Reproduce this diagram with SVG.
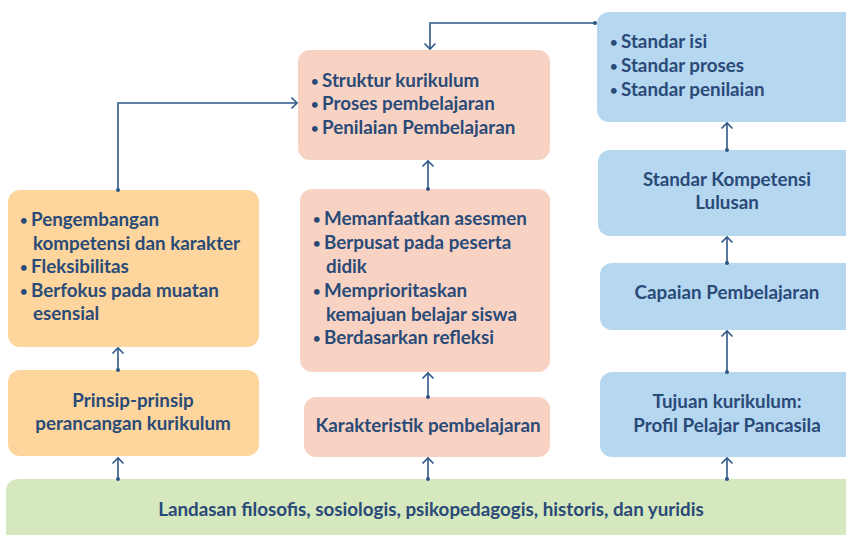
<svg xmlns="http://www.w3.org/2000/svg" width="846" height="535" viewBox="0 0 846 535">
<defs>
<marker id="head" markerUnits="userSpaceOnUse" markerWidth="14" markerHeight="14" viewBox="-8 -7 10 14" refX="0" refY="0" orient="auto">
<path d="M-5.5,-5.5 L0,0 L-5.5,5.5" fill="none" stroke="#2d5886" stroke-width="1.6"/>
</marker>
<marker id="dot" markerUnits="userSpaceOnUse" markerWidth="6" markerHeight="6" viewBox="-3 -3 6 6" refX="0" refY="0">
<circle cx="0" cy="0" r="2" fill="#2d5886"/>
</marker>
</defs>
<style>
text{font-family:Lato,"Liberation Sans",sans-serif;font-weight:bold;font-size:18.8px;fill:#2a4a78}
.b{font-size:13px;baseline-shift:1.5px}
.c{text-anchor:middle}
.or{fill:#fed69d}
.sa{fill:#f8d3c3}
.bl{fill:#b6d7f0}
.gr{fill:#d6e8bd}
.cn{fill:none;stroke:#2d5886;stroke-width:1.6;marker-start:url(#dot);marker-end:url(#head)}
</style>
<rect width="846" height="535" fill="#ffffff"/>

<g id="landasan">
<rect class="gr" x="6" y="479" width="870" height="80" rx="12"/>
<text class="c" x="431" y="516">Landasan filosofis, sosiologis, psikopedagogis, historis, dan yuridis</text>
</g>

<g id="prinsip-isi">
<rect class="or" x="8" y="190" width="251" height="157" rx="12"/>
<text y="226"><tspan class="b" x="20">•</tspan><tspan x="31">Pengembangan</tspan></text>
<text x="33" y="250">kompetensi dan karakter</text>
<text y="273"><tspan class="b" x="20">•</tspan><tspan x="31">Fleksibilitas</tspan></text>
<text y="297"><tspan class="b" x="20">•</tspan><tspan x="31">Berfokus pada muatan</tspan></text>
<text x="33" y="320">esensial</text>
</g>

<g id="prinsip">
<rect class="or" x="8" y="370" width="251" height="86" rx="12"/>
<text class="c" x="133" y="407">Prinsip-prinsip</text>
<text class="c" x="133" y="430">perancangan kurikulum</text>
</g>

<g id="struktur">
<rect class="sa" x="298" y="50" width="252" height="110" rx="12"/>
<text y="87"><tspan class="b" x="311">•</tspan><tspan x="322">Struktur kurikulum</tspan></text>
<text y="110"><tspan class="b" x="311">•</tspan><tspan x="322">Proses pembelajaran</tspan></text>
<text y="134"><tspan class="b" x="311">•</tspan><tspan x="322">Penilaian Pembelajaran</tspan></text>
</g>

<g id="karakteristik-isi">
<rect class="sa" x="300" y="189" width="250" height="183" rx="12"/>
<text y="225"><tspan class="b" x="313">•</tspan><tspan x="324">Memanfaatkan asesmen</tspan></text>
<text y="249"><tspan class="b" x="313">•</tspan><tspan x="324">Berpusat pada peserta</tspan></text>
<text x="326" y="273">didik</text>
<text y="297"><tspan class="b" x="313">•</tspan><tspan x="324">Memprioritaskan</tspan></text>
<text x="326" y="321">kemajuan belajar siswa</text>
<text y="344"><tspan class="b" x="313">•</tspan><tspan x="324">Berdasarkan refleksi</tspan></text>
</g>

<g id="karakteristik">
<rect class="sa" x="304" y="397" width="246" height="60" rx="12"/>
<text class="c" x="428" y="432">Karakteristik pembelajaran</text>
</g>

<g id="standar">
<rect class="bl" x="597" y="12" width="280" height="110" rx="12"/>
<text y="48"><tspan class="b" x="610">•</tspan><tspan x="621">Standar isi</tspan></text>
<text y="72"><tspan class="b" x="610">•</tspan><tspan x="621">Standar proses</tspan></text>
<text y="96"><tspan class="b" x="610">•</tspan><tspan x="621">Standar penilaian</tspan></text>
</g>

<g id="skl">
<rect class="bl" x="598" y="150" width="280" height="86" rx="12"/>
<text class="c" x="727" y="186">Standar Kompetensi</text>
<text class="c" x="727" y="209">Lulusan</text>
</g>

<g id="capaian">
<rect class="bl" x="600" y="263" width="280" height="67" rx="12"/>
<text class="c" x="727" y="299">Capaian Pembelajaran</text>
</g>

<g id="tujuan">
<rect class="bl" x="600" y="372" width="280" height="85" rx="12"/>
<text class="c" x="727" y="408">Tujuan kurikulum:</text>
<text class="c" x="727" y="432">Profil Pelajar Pancasila</text>
</g>

<g id="connectors">
<path class="cn" d="M118,479 V458"/>
<path class="cn" d="M118,370 V348"/>
<path class="cn" d="M118,190 V103 H297"/>
<path class="cn" d="M428,479 V458"/>
<path class="cn" d="M428,397 V373"/>
<path class="cn" d="M428,189 V161"/>
<path class="cn" d="M595,23 H430 V49"/>
<path class="cn" d="M727,479 V458"/>
<path class="cn" d="M727,372 V331"/>
<path class="cn" d="M727,263 V237"/>
<path class="cn" d="M727,150 V123"/>
</g>
</svg>
